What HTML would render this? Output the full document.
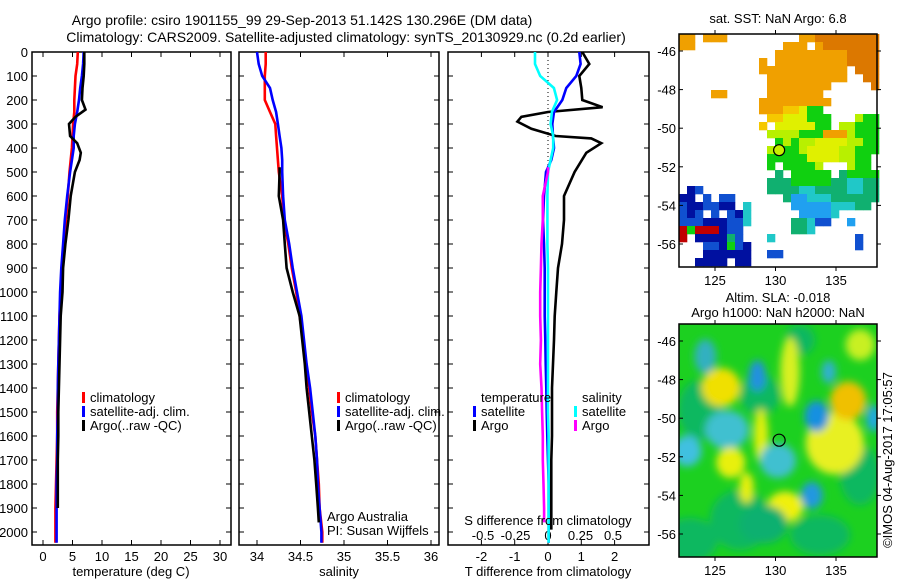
<!DOCTYPE html>
<html><head><meta charset="utf-8">
<style>
html,body{margin:0;padding:0;background:#fff;}
body{width:900px;height:580px;overflow:hidden;font-family:"Liberation Sans",sans-serif;}
svg text{font-family:"Liberation Sans",sans-serif;font-size:13px;fill:#000;}
</style></head>
<body>
<svg id="fig" width="900" height="580" viewBox="0 0 900 580" xmlns="http://www.w3.org/2000/svg">
<defs>
<filter id="blur" x="-50%" y="-50%" width="200%" height="200%"><feGaussianBlur stdDeviation="4"/></filter>
<clipPath id="mapclip2"><rect x="679" y="324" width="198" height="233"/></clipPath>
</defs>
<text x="302" y="25" text-anchor="middle" style="font-size:14px">Argo profile: csiro 1901155_99 29-Sep-2013 51.142S 130.296E (DM data)</text>
<text x="346" y="42" text-anchor="middle" style="font-size:14px">Climatology: CARS2009. Satellite-adjusted climatology: synTS_20130929.nc (0.2d earlier)</text>
<g id="panels"></g>
<g id="maps"></g>
</svg>
<script>
// ---------- data ----------
const depthTicks = [0,100,200,300,400,500,600,700,800,900,1000,1100,1200,1300,1400,1500,1600,1700,1800,1900,2000];
const tempTicks = [0,5,10,15,20,25,30];
const salTicks = [34,34.5,35,35.5,36];
const salTickLabels = ["34","34.5","35","35.5","36"];
const dtTicks = [-2,-1,0,1,2];
const dsTicks = [-0.5,-0.25,0,0.25,0.5];
const dsTickLabels = ["-0.5","-0.25","0","0.25","0.5"];

const profDepth = [0,50,100,150,200,250,300,350,400,450,500,600,700,800,900,1000,1100,1200,1300,1400,1500,1600,1700,1800,1900,2000,2045];
const climTemp = [5.9,5.8,5.5,5.4,5.3,5.3,5.1,5.0,4.9,4.7,4.5,4.2,3.9,3.5,3.3,3.0,2.8,2.7,2.6,2.5,2.4,2.4,2.3,2.2,2.1,2.1,2.1];
const satTemp = [6.9,6.8,6.6,6.3,6.1,5.8,5.4,5.2,5.2,4.9,4.6,4.1,3.7,3.4,3.1,2.9,2.8,2.7,2.6,2.5,2.5,2.4,2.4,2.3,2.3,2.3,2.3];
const argoTempDepth = [0,50,100,150,200,240,270,300,350,380,420,450,500,600,700,800,900,1000,1100,1200,1300,1400,1500,1600,1700,1800,1900];
const argoTemp = [7.0,7.0,6.9,6.7,6.6,7.2,5.5,4.4,4.6,5.8,6.4,6.2,5.4,4.7,4.3,3.8,3.4,3.3,3.0,2.9,2.8,2.7,2.6,2.6,2.5,2.5,2.5];

const climSal = [34.1,34.1,34.09,34.09,34.09,34.15,34.21,34.22,34.23,34.24,34.25,34.29,34.31,34.36,34.4,34.45,34.49,34.53,34.56,34.6,34.63,34.67,34.69,34.71,34.72,34.75,34.75];
const satSal = [34.0,34.02,34.06,34.15,34.18,34.22,34.24,34.26,34.28,34.29,34.29,34.3,34.32,34.37,34.41,34.46,34.51,34.54,34.57,34.61,34.64,34.67,34.69,34.7,34.72,34.74,34.74];
const argoSalDepth = [480,500,600,700,800,900,1000,1100,1200,1300,1400,1500,1600,1700,1800,1900,1960];
const argoSal = [34.26,34.26,34.25,34.3,34.32,34.34,34.41,34.49,34.52,34.55,34.57,34.6,34.63,34.66,34.68,34.7,34.71];

const argoDTDepth = [0,50,100,150,200,230,250,270,290,320,350,360,380,420,500,600,700,800,900,1000,1100,1200,1300,1400,1500,1600,1700,1800,1900,1990];
const argoDT = [1.03,1.24,0.94,1.0,1.03,1.64,0.0,-0.8,-0.92,-0.5,0.23,1.3,1.6,1.15,0.8,0.48,0.48,0.42,0.3,0.25,0.2,0.18,0.15,0.12,0.12,0.12,0.1,0.1,0.1,0.1];
const satDT = [0.94,0.98,0.85,0.55,0.43,0.18,0.13,0.15,0.18,0.1,-0.06,-0.12,-0.15,-0.12,-0.1,-0.1,-0.1,-0.08,-0.07,-0.05,-0.04,-0.02,0.0,0.02,0.02,0.02,0.02];
const satDS = [-0.1,-0.1,-0.06,0.045,0.07,0.03,0.02,0.04,0.04,0.02,0.0,-0.005,-0.005,-0.005,0,0,0,0,0,0,0,0.005,0.005,0.005,0.005,0.005,0.005];
const argoDS = [0,0,-0.04,-0.04,-0.05,-0.055,-0.06,-0.06,-0.055,-0.06,-0.05,-0.045,-0.04,-0.04,-0.035,-0.03,-0.03];

const latTicks = [-46,-48,-50,-52,-54,-56];
const lonTicks = [125,130,135];
const sstGrid = [
"oo.ooo.........ooOOOOOOOO",
"oo...........ooo.oOOOOOOO",
"............oooooooooOOOO",
"..........o.oooooooooOOOO",
"..........ooooooooooo.OOO",
"...........oooooooooo..OO",
"...........oooooooo.....O",
"....oo.....ooooooo.......",
"..........ooooooooo......",
"..........oooaaygg.......",
"...........aayyyggg...Ygg",
"..........a.yyyyygg.YYggg",
"...........YYYYgggoooYggg",
"............gYgYYyyyyYYgg",
"...........YgggYyyyyYYggg",
"...........gggggyyyyYYgg.",
"...........g.ggggY...Ygg.",
"............t.ggggg.tgggg",
"...........tttgggggttcctt",
".nb........ttttccttttcctt",
"nn.b.bb......tllccctttttt",
"bnnbbnn.c.....lllllccctt.",
"bnb.b.bnc......llllc.....",
"bbbnnnbbc.....ttcbb..l...",
"rgrrrnbb......ttc........",
"r.nnnntb...c..........b..",
"...bbngbn.............b..",
"...nnnnnn..bb............",
"..nnnn.nn................"
];
const sstColors = {o:"#f0a000",O:"#dc7800",a:"#f5c800",y:"#e0f000",Y:"#b8f000",g:"#10d010",t:"#10b070",c:"#20c8c8",l:"#20a0f0",b:"#1050d0",n:"#0010a0",r:"#c00000"};
const slaLon = [125.5,128.5,124.2,126.0,122.7,126.3,128.8,134.9,136.0,133.4,138.1,134.4,130.2,130.8,133.0,127.6,131.2,137.0,129.0];
const slaLat = [-48.4,-47.8,-46.8,-50.6,-51.7,-52.3,-50.9,-51.3,-49.1,-49.9,-50.0,-47.6,-52.2,-54.6,-54.0,-53.6,-47.6,-46.2,-55.5];
const slaRx = [1.6,0.7,0.9,1.8,1.2,1.2,0.6,2.4,1.5,1.0,0.6,0.6,1.5,1.5,0.9,0.6,0.8,1.2,2.0];
const slaRy = [1.0,0.8,0.9,1.0,0.8,0.8,1.4,1.6,1.0,0.8,0.7,0.6,0.9,0.8,0.7,0.8,1.8,0.8,1.0];
const slaCol = ["#f0e000","#2090e0","#30b0c0","#40c0d0","#40c0e0","#e8f010","#e0f010","#e8f020","#f0c000","#1890e0","#20a8e0","#30b0d0","#40c0d0","#f0f010","#2098e0","#e8f010","#d8f020","#c8f020","#10b070"];

// ---------- helpers ----------
const NS = "http://www.w3.org/2000/svg";
const panels = document.getElementById('panels');
const maps = document.getElementById('maps');
function mk(tag, attrs, parent){ const e=document.createElementNS(NS,tag); for(const k in attrs) e.setAttribute(k,attrs[k]); (parent||panels).appendChild(e); return e; }
function txt(x,y,s,anchor,parent){ const t=mk('text',{x:x,y:y,'text-anchor':anchor||'middle'},parent); t.textContent=s; return t; }

const TOP=52, BOT=545;
const yD = d => TOP + d*0.24;
const xT = t => 43 + t*5.9;
const xS = s => 257 + (s-34)*87;
const xDT = v => 548 + v*33.3;
const xDS = v => 548 + v*130;

function frame(x0,x1,name){
  const r=mk('rect',{x:x0,y:TOP,width:x1-x0,height:BOT-TOP,fill:'none',stroke:'#000','stroke-width':1.5});
  
  
  depthTicks.forEach(d=>{
    mk('line',{x1:x0,x2:x0+5,y1:yD(d),y2:yD(d),stroke:'#000'});
    mk('line',{x1:x1-5,x2:x1,y1:yD(d),y2:yD(d),stroke:'#000'});
  });
}
function xticks(vals,labels,fx,y,name){
  vals.forEach((v,i)=>{
    const x=fx(v);
    mk('line',{x1:x,x2:x,y1:TOP,y2:TOP+5,stroke:'#000'});
    mk('line',{x1:x,x2:x,y1:BOT-5,y2:BOT,stroke:'#000'});
    const t=txt(x,y,labels[i]);
    
    
  });
}
function line(depths,vals,fx,col,name){
  let d='';
  vals.forEach((v,i)=>{ d+=(i?'L':'M')+fx(v).toFixed(1)+','+yD(depths[i]).toFixed(1); });
  const p=mk('path',{d:d,fill:'none',stroke:col,'stroke-width':2.6,'stroke-linejoin':'miter'});
  
  
}
function legend(x,y,col,label,name){
  mk('rect',{x:x,y:y-10,width:3,height:11,fill:col});
  const t=txt(x+8,y,label,'start');
  
  
}

depthTicks.forEach(d=>{
  const t=txt(28,yD(d)+5,String(d),'end');
  
  
});

// panel 1 temperature
frame(32,231,'temperature-panel');
xticks(tempTicks,tempTicks.map(String),xT,561,'temperature-tick-label');
line(profDepth,climTemp,xT,'#ff0000','climatology-temperature-line');
line(profDepth,satTemp,xT,'#0000ff','satellite-temperature-line');
line(argoTempDepth,argoTemp,xT,'#000000','argo-temperature-line');
legend(82,402,'#ff0000','climatology','legend-climatology');
legend(82,416,'#0000ff','satellite-adj. clim.','legend-satellite');
legend(82,430,'#000000','Argo(..raw -QC)','legend-argo');
let t=txt(131,576,'temperature (deg C)');



// panel 2 salinity
frame(239,439,'salinity-panel');
xticks(salTicks,salTickLabels,xS,561,'salinity-tick-label');
line(profDepth,climSal,xS,'#ff0000','climatology-salinity-line');
line(profDepth,satSal,xS,'#0000ff','satellite-salinity-line');
line(argoSalDepth,argoSal,xS,'#000000','argo-salinity-line');
legend(337,402,'#ff0000','climatology','legend-climatology-2');
legend(337,416,'#0000ff','satellite-adj. clim.','legend-satellite-2');
legend(337,430,'#000000','Argo(..raw -QC)','legend-argo-2');
t=txt(327,521,'Argo Australia','start');


t=txt(327,535,'PI: Susan Wijffels','start');


t=txt(339,576,'salinity');



// panel 3 differences
frame(448,649,'difference-panel');
dtTicks.forEach(v=>{ const x=xDT(v); mk('line',{x1:x,x2:x,y1:TOP,y2:TOP+5,stroke:'#000'}); mk('line',{x1:x,x2:x,y1:BOT-5,y2:BOT,stroke:'#000'}); });
dtTicks.forEach(v=>{ const tt=txt(xDT(v),561,String(v));   });
dsTicks.forEach((v,i)=>{ const tt=txt(xDS(v),540,dsTickLabels[i]);   });
mk('line',{x1:548,x2:548,y1:TOP,y2:BOT,stroke:'#000','stroke-dasharray':'1,3'});
line(argoDTDepth,argoDT,xDT,'#000000','argo-t-diff-line');
line(profDepth,satDT,xDT,'#0000ff','satellite-t-diff-line');
line(profDepth,satDS,xDS,'#00ffff','satellite-s-diff-line');
line(argoSalDepth,argoDS,xDS,'#ff00ff','argo-s-diff-line');
t=txt(481,402,'temperature','start');  
t=txt(582,402,'salinity','start');  
legend(473,416,'#0000ff','satellite','legend-t-satellite');
legend(473,430,'#000000','Argo','legend-t-argo');
legend(574,416,'#00ffff','satellite','legend-s-satellite');
legend(574,430,'#ff00ff','Argo','legend-s-argo');
t=txt(548,525,'S difference from climatology');  
t=txt(548,576,'T difference from climatology');  

// ---------- maps ----------
const MX0=679, MX1=877;
const lonX = lon => 715 + (lon-125)*12.1;
function mapFrame(y0,y1,latY,name){
  const r=mk('rect',{x:MX0,y:y0,width:MX1-MX0,height:y1-y0,fill:'none',stroke:'#000','stroke-width':1.5},maps);
  
  
  latTicks.forEach(l=>{
    const y=latY(l);
    mk('line',{x1:MX0,x2:MX0+4,y1:y,y2:y,stroke:'#000'},maps);
    mk('line',{x1:MX1,x2:MX1+4,y1:y,y2:y,stroke:'#000'},maps);
    const tt=txt(MX0-3,y+5,String(l),'end',maps);
    
    
  });
  lonTicks.forEach(l=>{
    const x=lonX(l);
    mk('line',{x1:x,x2:x,y1:y0-4,y2:y0,stroke:'#000'},maps);
    mk('line',{x1:x,x2:x,y1:y1,y2:y1+4,stroke:'#000'},maps);
    const tt=txt(x,y1+18,String(l),'middle',maps);
    
    
  });
}
const latY1 = l => 51 + (-46-l)*19.3;
sstGrid.forEach((row,i)=>{
  for(let j=0;j<row.length;j++){
    const c=row[j]; if(c==='.') continue;
    const cell=mk('rect',{x:MX0+j*8,y:34+i*8,width:8.3,height:8.3,fill:sstColors[c]},maps);
    
    
  }
});
mapFrame(34,267,latY1,'sst-map');
let c=mk('circle',{cx:lonX(130.3),cy:latY1(-51.14),r:5.5,fill:'#c8f000',stroke:'#000','stroke-width':1.2},maps);


t=txt(778,23,'sat. SST: NaN Argo: 6.8','middle',maps);  

const latY2 = l => 341 + (-46-l)*19.3;
const g=mk('g',{'clip-path':'url(#mapclip2)'},maps);
mk('rect',{x:MX0,y:324,width:198,height:233,fill:'#1cd020'},g);
const gb=mk('g',{filter:'url(#blur)'},g);
[[690,540,28,22],[740,520,30,30],[700,410,22,30],[760,395,20,20],[820,535,30,20],[860,475,20,30],[800,340,15,15]].forEach(a=>mk('ellipse',{cx:a[0],cy:a[1],rx:a[2],ry:a[3],fill:'#10b860'},gb));
slaLon.forEach((lon,i)=>{
  const e=mk('ellipse',{cx:lonX(lon),cy:latY2(slaLat[i]),rx:slaRx[i]*12.1,ry:slaRy[i]*19.3,fill:slaCol[i]},gb);
  
  
});
mapFrame(324,557,latY2,'sla-map');
c=mk('circle',{cx:lonX(130.3),cy:latY2(-51.14),r:6,fill:'none',stroke:'#000','stroke-width':1.2},maps);


t=txt(778,302,'Altim. SLA: -0.018','middle',maps);  
t=txt(778,317,'Argo h1000: NaN h2000: NaN','middle',maps);  
t=txt(0,0,'©IMOS 04-Aug-2017 17:05:57','middle',maps);
t.setAttribute('transform','translate(892,460) rotate(-90)');


</script>
</body></html>
